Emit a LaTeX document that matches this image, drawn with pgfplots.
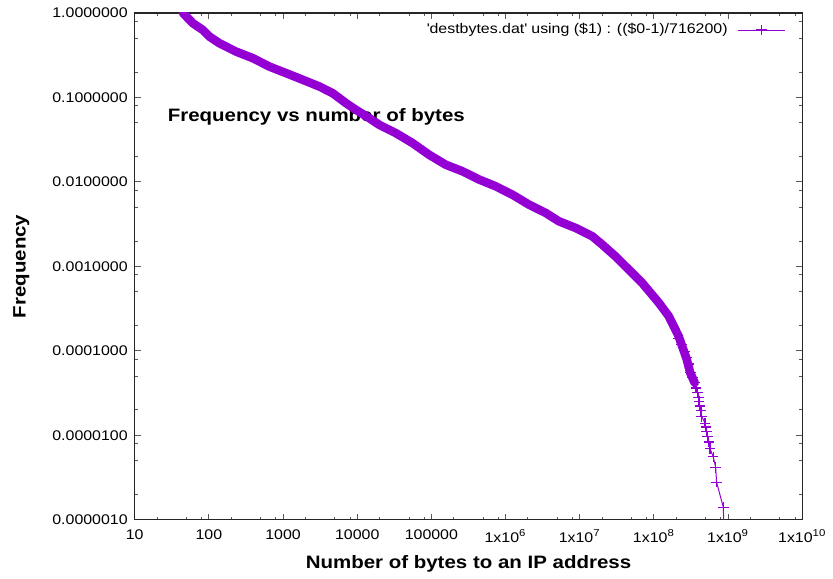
\documentclass[border=0pt]{standalone}
\usepackage{fontspec}
\setmainfont{Liberation Sans}[FakeStretch=1.14]
\usepackage{pgfplots}
\pgfplotsset{compat=1.18}
\definecolor{gpviolet}{HTML}{9400D3}

% tail of the distribution, one mark per rank (y = rank/716200)
\pgfplotstableread{
x y
8.8e8 5.0e-7
8.65e8 1.396e-6
7.0e8 2.793e-6
6.8e8 4.189e-6
6.3e8 5.585e-6
5.7e8 6.981e-6
5.5e8 8.378e-6
5.3e8 9.774e-6
5.1e8 1.117e-5
5.0e8 1.257e-5
4.9e8 1.396e-5
4.4e8 1.676e-5
4.3e8 1.955e-5
4.15e8 2.234e-5
4.05e8 2.513e-5
4.0e8 2.793e-5
3.85e8 3.211e-5
3.7e8 3.630e-5
3.55e8 4.189e-5
3.3e8 4.887e-5
3.1e8 5.585e-5
2.95e8 6.981e-5
2.8e8 8.378e-5
2.65e8 9.774e-5
2.35e8 1.187e-4
2.1e8 1.396e-4
}\tail

% dense part: marks overlap into a thick band
\pgfplotstableread{
x y
44.7 1.0
61 0.755
83 0.63
102 0.525
139 0.438
233 0.349
391 0.292
655 0.232
1100 0.194
1840 0.162
3080 0.135
4660 0.1125
7050 0.0857
9600 0.0715
14500 0.057
19800 0.0475
33100 0.0379
55500 0.0289
93000 0.021
156000 0.016
261000 0.0134
438000 0.0107
735000 0.00889
1.23e6 0.00709
2.06e6 0.0054
3.46e6 0.00431
5.22e6 0.00343
8.75e6 0.00286
1.47e7 0.00228
2.0e7 0.00182
3.02e7 0.00132
4.56e7 9.22e-4
6.9e7 6.42e-4
1.16e8 3.73e-4
1.58e8 2.59e-4
2.15e8 1.5e-4
2.77e8 7.97e-5
3.08e8 5.55e-5
3.55e8 4.19e-5
}\band

\begin{document}
\begin{tikzpicture}
\begin{axis}[
    name=ax,
    scale only axis,
    width=334.5pt, height=254pt,
    xmode=log, ymode=log,
    xmin=10, xmax=1e10, ymin=1e-6, ymax=1,
    log basis x=10, log basis y=10,
    xtick={10,100,1000,1e4,1e5,1e6,1e7,1e8,1e9,1e10},
    xticklabels={10,100,1000,10000,100000,1x10\textsuperscript{6},1x10\textsuperscript{7},1x10\textsuperscript{8},1x10\textsuperscript{9},1x10\textsuperscript{10}},
    ytick={1e-6,1e-5,1e-4,1e-3,1e-2,1e-1,1},
    yticklabels={0.0000010,0.0000100,0.0001000,0.0010000,0.0100000,0.1000000,1.0000000},
    minor xtick={20,50,80,200,500,800,2000,5000,8000,2e4,5e4,8e4,2e5,5e5,8e5,2e6,5e6,8e6,2e7,5e7,8e7,2e8,5e8,8e8,2e9,5e9,8e9},
    minor ytick={2e-6,5e-6,8e-6,2e-5,5e-5,8e-5,2e-4,5e-4,8e-4,2e-3,5e-3,8e-3,0.02,0.05,0.08,0.2,0.5,0.8},
    tick align=inside,
    major tick length=3pt, minor tick length=1.7pt,
    tick style={black!65, line width=0.5pt},
    axis line style={black!85, line width=0.6pt},
    ticklabel style={font=\fontsize{7}{8}\selectfont},
    xticklabel style={yshift=-1.5pt},
    xlabel={Number of bytes to an IP address},
    ylabel={Frequency},
    label style={font=\bfseries\fontsize{9}{10}\selectfont},
    xlabel style={at={(axis description cs:0.5,-0.0866)}, anchor=center},
    ylabel style={at={(axis description cs:-0.17,0.5)}, anchor=center},
    legend style={draw=none, fill=none, at={(0.978,0.992)}, anchor=north east,
        font=\fontsize{7}{8}\selectfont, inner sep=1pt},
    legend cell align=right,
    legend plot pos=right,
    legend image code/.code={\draw[mark repeat=2,mark phase=2] plot coordinates {(0cm,0cm) (0.41cm,0cm) (0.82cm,0cm)};},
]
\node[anchor=west, font=\bfseries\fontsize{9}{10}\selectfont, inner sep=0pt]
    at (rel axis cs:0.049,0.795) {Frequency vs number of bytes};
\addplot[gpviolet, line width=0.5pt, mark=+, mark size=2.6pt, mark options={line width=0.65pt}]
    table[x=x,y=y] {\tail};
\addlegendentry{\textquotesingle destbytes.dat\textquotesingle{} using (\$1) : ((\$0-1)/716200)\hspace*{3pt}}
\addplot[gpviolet, line width=4.3pt, line join=round, line cap=round, forget plot]
    table[x=x,y=y] {\band};
\end{axis}
\path (ax.south west) ++(-67.5pt,-27.5pt) rectangle ++(416.5pt,288pt);
\end{tikzpicture}
\end{document}
